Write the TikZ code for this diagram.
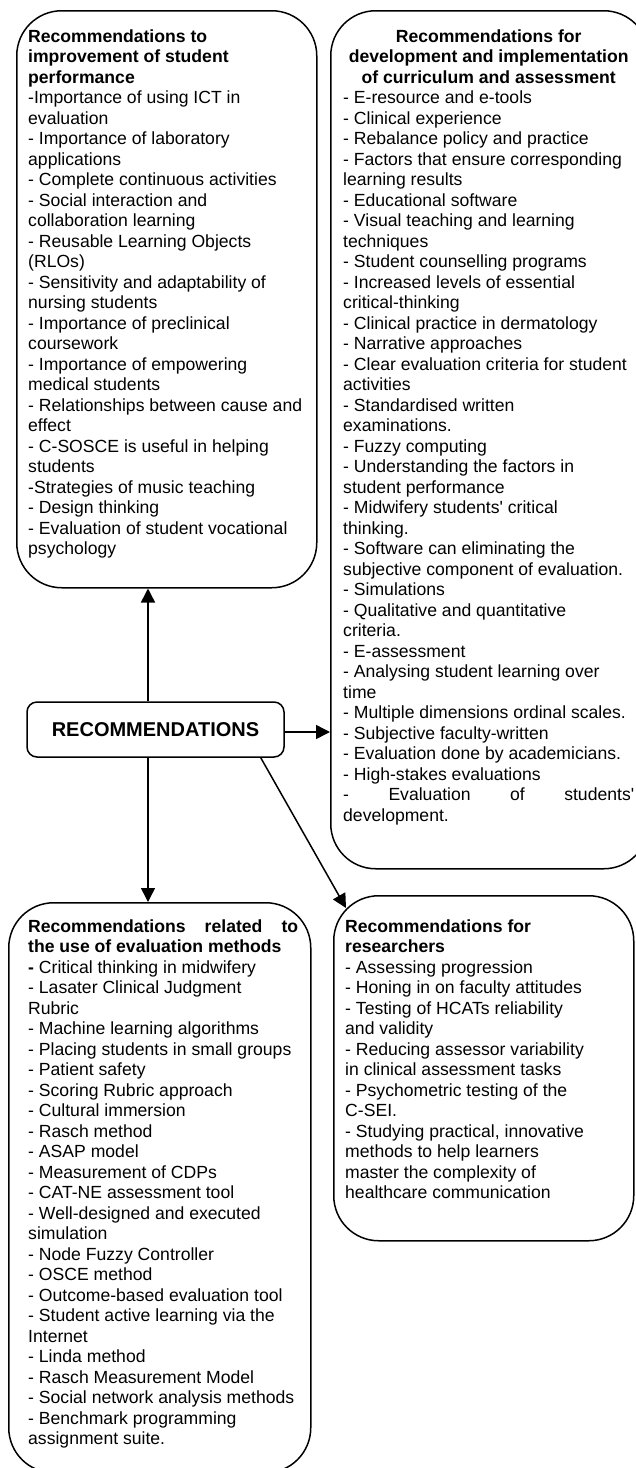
\documentclass[tikz,border=0pt]{standalone}
\usepackage{fontspec}
\setmainfont{Liberation Sans}
\usetikzlibrary{arrows.meta,calc}

\tikzset{
  panel/.style={draw=black, line width=1.5pt, rounded corners=45pt, inner sep=0pt, anchor=north west},
  hub/.style={draw=black, line width=1.5pt, rounded corners=10pt, inner sep=0pt,
    minimum width=257pt, minimum height=55pt,
    font=\bfseries\fontsize{20}{24}\selectfont},
  body/.style={anchor=base west, inner sep=0pt, font=\fontsize{17.6}{20.5}\selectfont},
  link/.style={line width=1.5pt, -{Triangle[length=14pt,width=14pt]}}
}

\begin{document}
\begin{tikzpicture}[x=1pt, y=-1pt]
  \clip (0,0) rectangle (636,1468);
  \fill[white] (0,0) rectangle (636,1468);

  % outlined panels
  \node[panel, minimum width=300pt, minimum height=577pt] (A) at (16,10) {};
  \node[panel, minimum width=318pt, minimum height=858pt] (B) at (330,10) {};
  \node[panel, minimum width=302pt, minimum height=570pt] (C) at (8,902) {};
  \node[panel, minimum width=300pt, minimum height=345pt] (D) at (333,895) {};

  % central node
  \node[hub] (hub) at (155.5,729.5) {RECOMMENDATIONS};

  % panel texts
  \node[body] (tA) at (28,42) {\begin{minipage}[t]{300pt}
\textbf{Recommendations to}\\
\textbf{improvement of student}\\
\textbf{performance}\\
-Importance of using ICT in\\
evaluation\\
- Importance of laboratory\\
applications\\
- Complete continuous activities\\
- Social interaction and\\
collaboration learning\\
- Reusable Learning Objects\\
(RLOs)\\
- Sensitivity and adaptability of\\
nursing students\\
- Importance of preclinical\\
coursework\\
- Importance of empowering\\
medical students\\
- Relationships between cause and\\
effect\\
- C-SOSCE is useful in helping\\
students\\
-Strategies of music teaching\\
- Design thinking\\
- Evaluation of student vocational\\
psychology
\end{minipage}};

  \node[body] (tB) at (343,42) {\begin{minipage}[t]{291pt}
\makebox[\linewidth][c]{\textbf{Recommendations for}}\\
\makebox[\linewidth][c]{\textbf{development and implementation}}\\
\makebox[\linewidth][c]{\textbf{of curriculum and assessment}}\\
- E-resource and e-tools\\
- Clinical experience\\
- Rebalance policy and practice\\
- Factors that ensure corresponding\\
learning results\\
- Educational software\\
- Visual teaching and learning\\
techniques\\
- Student counselling programs\\
- Increased levels of essential\\
critical-thinking\\
- Clinical practice in dermatology\\
- Narrative approaches\\
- Clear evaluation criteria for student\\
activities\\
- Standardised written\\
examinations.\\
- Fuzzy computing\\
- Understanding the factors in\\
student performance\\
- Midwifery students\textquotesingle{} critical\\
thinking.\\
- Software can eliminating the\\
subjective component of evaluation.\\
- Simulations\\
- Qualitative and quantitative\\
criteria.\\
- E-assessment\\
- Analysing student learning over\\
time\\
- Multiple dimensions ordinal scales.\\
- Subjective faculty-written\\
- Evaluation done by academicians.\\
- High-stakes evaluations\\
\makebox[\linewidth]{-\hfill Evaluation\hfill of\hfill students\textquotesingle}\\
development.
\end{minipage}};

  \node[body] (tC) at (28,932) {\begin{minipage}[t]{270pt}
\makebox[\linewidth]{\bfseries Recommendations\hfill related\hfill to}\\
\textbf{the use of evaluation methods}\\
\textbf{-} Critical thinking in midwifery\\
- Lasater Clinical Judgment\\
Rubric\\
- Machine learning algorithms\\
- Placing students in small groups\\
- Patient safety\\
- Scoring Rubric approach\\
- Cultural immersion\\
- Rasch method\\
- ASAP model\\
- Measurement of CDPs\\
- CAT-NE assessment tool\\
- Well-designed and executed\\
simulation\\
- Node Fuzzy Controller\\
- OSCE method\\
- Outcome-based evaluation tool\\
- Student active learning via the\\
Internet\\
- Linda method\\
- Rasch Measurement Model\\
- Social network analysis methods\\
- Benchmark programming\\
assignment suite.
\end{minipage}};

  \node[body] (tD) at (345,932) {\begin{minipage}[t]{290pt}
\textbf{Recommendations for}\\
\textbf{researchers}\\
- Assessing progression\\
- Honing in on faculty attitudes\\
- Testing of HCATs reliability\\
and validity\\
- Reducing assessor variability\\
in clinical assessment tasks\\
- Psychometric testing of the\\
C-SEI.\\
- Studying practical, innovative\\
methods to help learners\\
master the complexity of\\
healthcare communication
\end{minipage}};

  % connectors from the central node
  \draw[link] ([xshift=-7.5pt]hub.north) -- ([xshift=-7.5pt]hub.north |- A.south);
  \draw[link] ([yshift=-2.5pt]hub.east) -- ([yshift=-2.5pt]hub.east -| B.west);
  \draw[link] ([xshift=-7.5pt]hub.south) -- ([xshift=-7.5pt]hub.south |- C.north);
  \draw[link] ([xshift=-24pt]hub.south east) -- ($(D.north west)+(13,13)$);
\end{tikzpicture}
\end{document}
